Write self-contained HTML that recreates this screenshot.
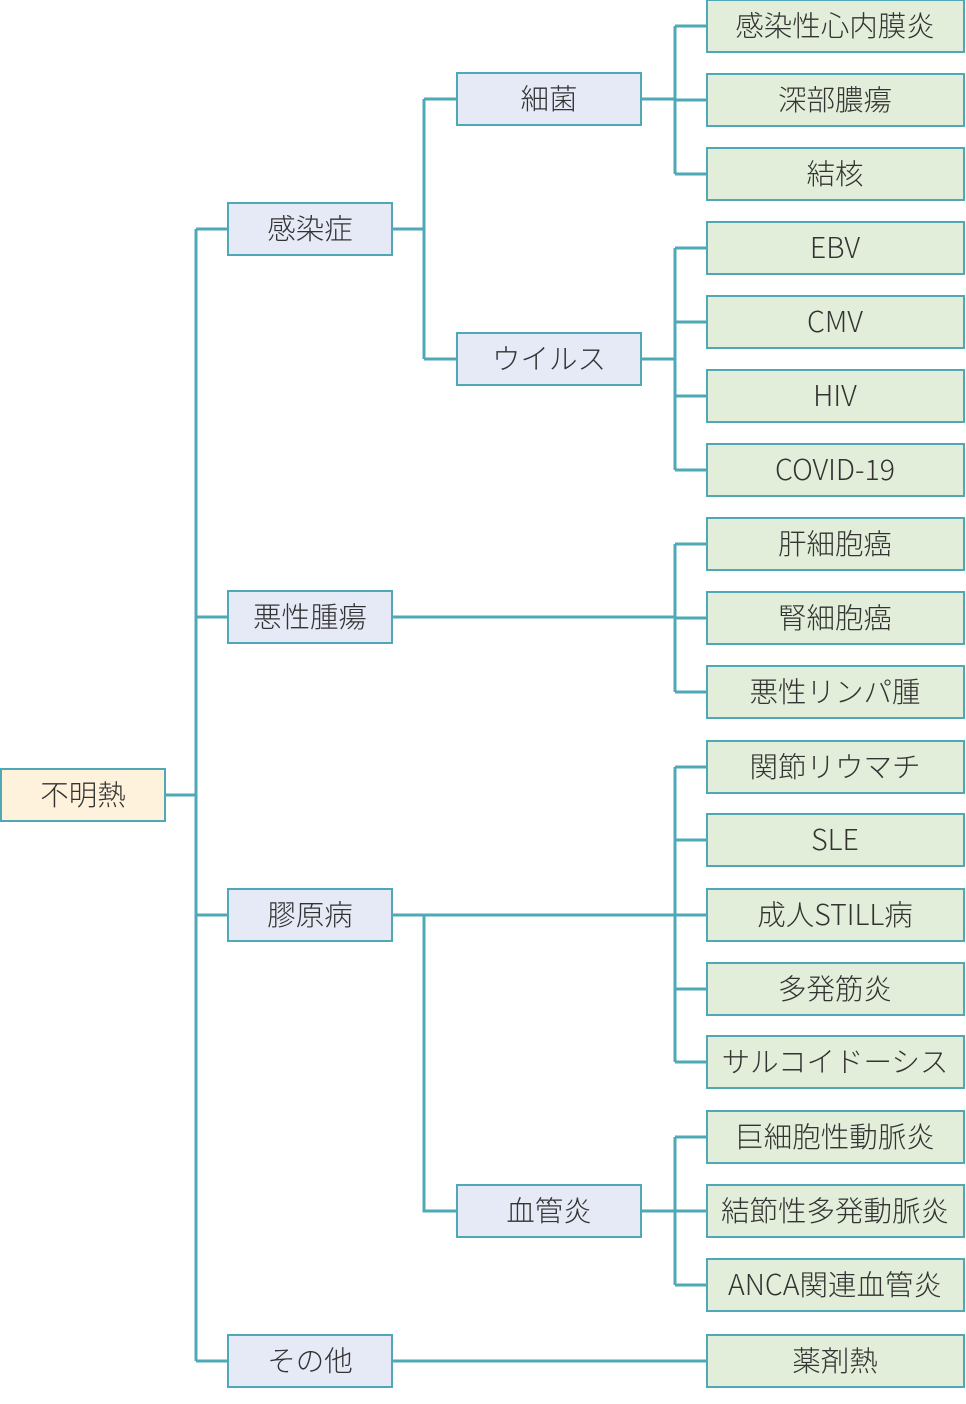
<!DOCTYPE html>
<html><head><meta charset="utf-8"><style>
html,body{margin:0;padding:0;background:#fff}
svg{display:block}
text{font-family:"Noto Sans CJK JP","Liberation Sans",sans-serif;font-weight:300;font-size:28.5px;fill:#333;text-anchor:middle;dominant-baseline:central}
.l{stroke:#4ea8b6;stroke-width:3;fill:none}
.b{stroke:#4ea8b6;stroke-width:2}
</style></head><body>
<svg width="966" height="1404" viewBox="0 0 966 1404">
<g class="l">
<path d="M165 795H196M196 229V1361M196 229H228M196 617H228M196 915H228M196 1361H228"/>
<path d="M392 229H424M424 99V359M424 99H457M424 359H457"/>
<path d="M641 99H675M675 26V174M641 359H675M675 248V470"/>
<path d="M392 617H675M675 544V692"/>
<path d="M392 915H675M675 767V1062M424 915V1211H457M641 1211H675M675 1137V1285"/>
<path d="M392 1361H707"/>
<path d="M675 26H707M675 100H707M675 174H707M675 248H707M675 322H707M675 396H707M675 470H707M675 544H707M675 618H707M675 692H707M675 767H707M675 840H707M675 915H707M675 989H707M675 1062H707M675 1137H707M675 1211H707M675 1285H707"/>
</g>
<rect class="b" x="1" y="769" width="164" height="52" fill="#fff2dc"/>
<g fill="#e6eaf6">
<rect class="b" x="228" y="203" width="164" height="52"/><rect class="b" x="228" y="591" width="164" height="52"/><rect class="b" x="228" y="889" width="164" height="52"/><rect class="b" x="228" y="1335" width="164" height="52"/>
<rect class="b" x="457" y="73" width="184" height="52"/><rect class="b" x="457" y="333" width="184" height="52"/><rect class="b" x="457" y="1185" width="184" height="52"/>
</g>
<g fill="#e2eed9">
<rect class="b" x="707" y="0" width="257" height="52"/><rect class="b" x="707" y="74" width="257" height="52"/><rect class="b" x="707" y="148" width="257" height="52"/><rect class="b" x="707" y="222" width="257" height="52"/><rect class="b" x="707" y="296" width="257" height="52"/><rect class="b" x="707" y="370" width="257" height="52"/><rect class="b" x="707" y="444" width="257" height="52"/><rect class="b" x="707" y="518" width="257" height="52"/><rect class="b" x="707" y="592" width="257" height="52"/><rect class="b" x="707" y="666" width="257" height="52"/><rect class="b" x="707" y="741" width="257" height="52"/><rect class="b" x="707" y="814" width="257" height="52"/><rect class="b" x="707" y="889" width="257" height="52"/><rect class="b" x="707" y="963" width="257" height="52"/><rect class="b" x="707" y="1036" width="257" height="52"/><rect class="b" x="707" y="1111" width="257" height="52"/><rect class="b" x="707" y="1185" width="257" height="52"/><rect class="b" x="707" y="1259" width="257" height="52"/><rect class="b" x="707" y="1335" width="257" height="52"/>
</g>
<g transform="translate(0,-1.5)">
<text x="83" y="795">不明熱</text>
<text x="310" y="229">感染症</text><text x="310" y="617">悪性腫瘍</text><text x="310" y="915">膠原病</text><text x="310" y="1361">その他</text>
<text x="549" y="99">細菌</text><text x="549" y="359">ウイルス</text><text x="549" y="1211">血管炎</text>
<text x="835" y="26">感染性心内膜炎</text><text x="835" y="100">深部膿瘍</text><text x="835" y="174">結核</text><text x="835" y="248">EBV</text><text x="835" y="322">CMV</text><text x="835" y="396">HIV</text><text x="835" y="470">COVID-19</text><text x="835" y="544">肝細胞癌</text><text x="835" y="618">腎細胞癌</text><text x="835" y="692">悪性リンパ腫</text><text x="835" y="767">関節リウマチ</text><text x="835" y="840">SLE</text><text x="835" y="915">成人STILL病</text><text x="835" y="989">多発筋炎</text><text x="835" y="1062">サルコイドーシス</text><text x="835" y="1137">巨細胞性動脈炎</text><text x="835" y="1211">結節性多発動脈炎</text><text x="835" y="1285">ANCA関連血管炎</text><text x="835" y="1361">薬剤熱</text>
</g>
</svg>
</body></html>
